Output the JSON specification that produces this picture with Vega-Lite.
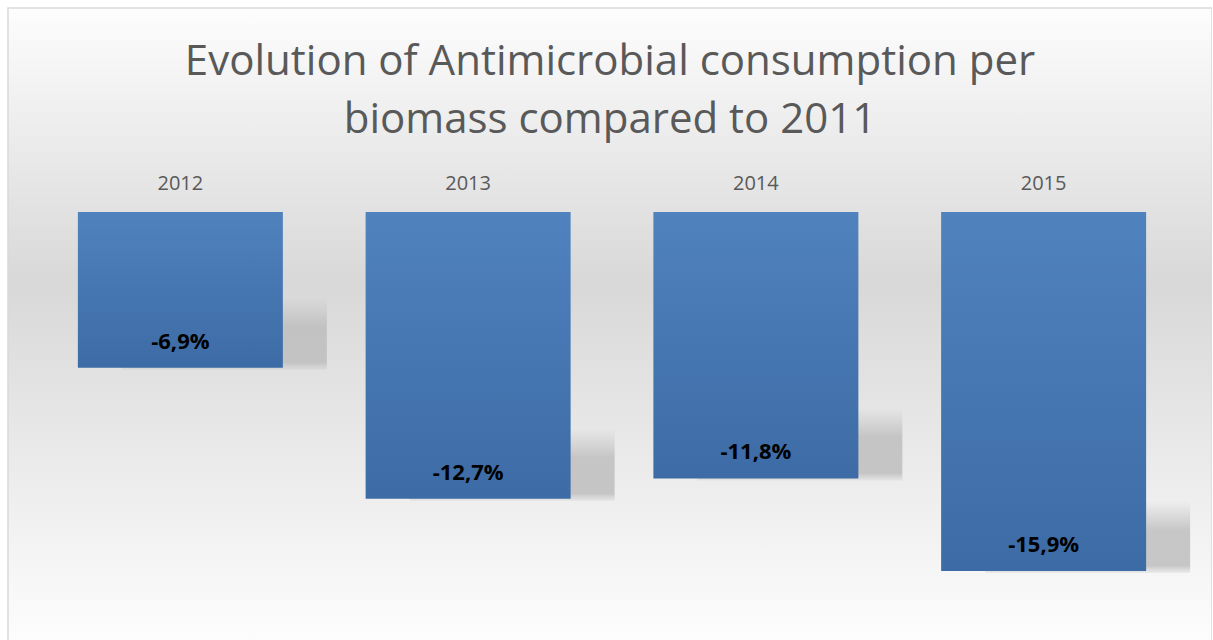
{
  "$schema": "https://vega.github.io/schema/vega-lite/v6.json",
  "autosize": "none",
  "padding": {"left": 8, "top": 8, "right": 0, "bottom": 0},
  "width": 1204,
  "height": 640,
  "background": "#ffffff",
  "view": {
    "stroke": "#d9d9d9",
    "strokeWidth": 1.5,
    "fill": {
      "gradient": "linear",
      "x1": 0, "y1": 0, "x2": 0, "y2": 1,
      "stops": [
        {"offset": 0, "color": "#fdfdfd"},
        {"offset": 0.43, "color": "#d8d8d8"},
        {"offset": 0.96, "color": "#fbfbfb"},
        {"offset": 1, "color": "#fdfdfd"}
      ]
    }
  },
  "title": {
    "text": ["Evolution of Antimicrobial consumption per", "biomass compared to 2011"],
    "font": "Open Sans",
    "fontSize": 42,
    "fontWeight": "normal",
    "color": "#595959",
    "lineHeight": 58,
    "anchor": "middle",
    "baseline": "alphabetic",
    "offset": -167
  },
  "data": {
    "values": [
      {"year": "2012", "value": -6.9, "label": "-6,9%"},
      {"year": "2013", "value": -12.7, "label": "-12,7%"},
      {"year": "2014", "value": -11.8, "label": "-11,8%"},
      {"year": "2015", "value": -15.9, "label": "-15,9%"}
    ]
  },
  "encoding": {
    "x": {
      "field": "year",
      "type": "nominal",
      "sort": null,
      "scale": {"range": [28.5, 1179.5], "paddingInner": 0.2876, "paddingOuter": 0.1438},
      "axis": {
        "orient": "top",
        "title": null,
        "domain": false,
        "ticks": false,
        "tickSize": 0,
        "grid": false,
        "labelPadding": 0,
        "offset": -185,
        "labelAngle": 0,
        "labelFont": "Open Sans",
        "labelFontSize": 20,
        "labelColor": "#595959"
      }
    },
    "y": {
      "field": "value",
      "type": "quantitative",
      "scale": {"domain": [-19.31, 9.035], "nice": false, "zero": false},
      "axis": null
    }
  },
  "layer": [
    {
      "mark": {
        "type": "bar",
        "xOffset": 44,
        "yOffset": 2,
        "y2Offset": -70,
        "fill": {
          "gradient": "linear",
          "x1": 0, "y1": 0, "x2": 0, "y2": 1,
          "stops": [
            {"offset": 0, "color": "rgba(185,185,185,0)"},
            {"offset": 0.4, "color": "rgba(185,185,185,0.75)"},
            {"offset": 0.9, "color": "rgba(190,190,190,0.85)"},
            {"offset": 1, "color": "rgba(200,200,200,0.25)"}
          ]
        }
      },
      "encoding": {
        "y2": {"field": "value"}
      }
    },
    {
      "mark": {
        "type": "bar",
        "fill": {
          "gradient": "linear",
          "x1": 0, "y1": 0, "x2": 0, "y2": 1,
          "stops": [
            {"offset": 0, "color": "#5082be"},
            {"offset": 1, "color": "#3d6ba5"}
          ]
        }
      },
      "encoding": {
        "y2": {"datum": 0}
      }
    },
    {
      "mark": {
        "type": "text",
        "font": "Open Sans",
        "fontSize": 22,
        "fontWeight": "bold",
        "color": "#000000",
        "baseline": "middle",
        "dy": -26
      },
      "encoding": {
        "text": {"field": "label"}
      }
    }
  ]
}
